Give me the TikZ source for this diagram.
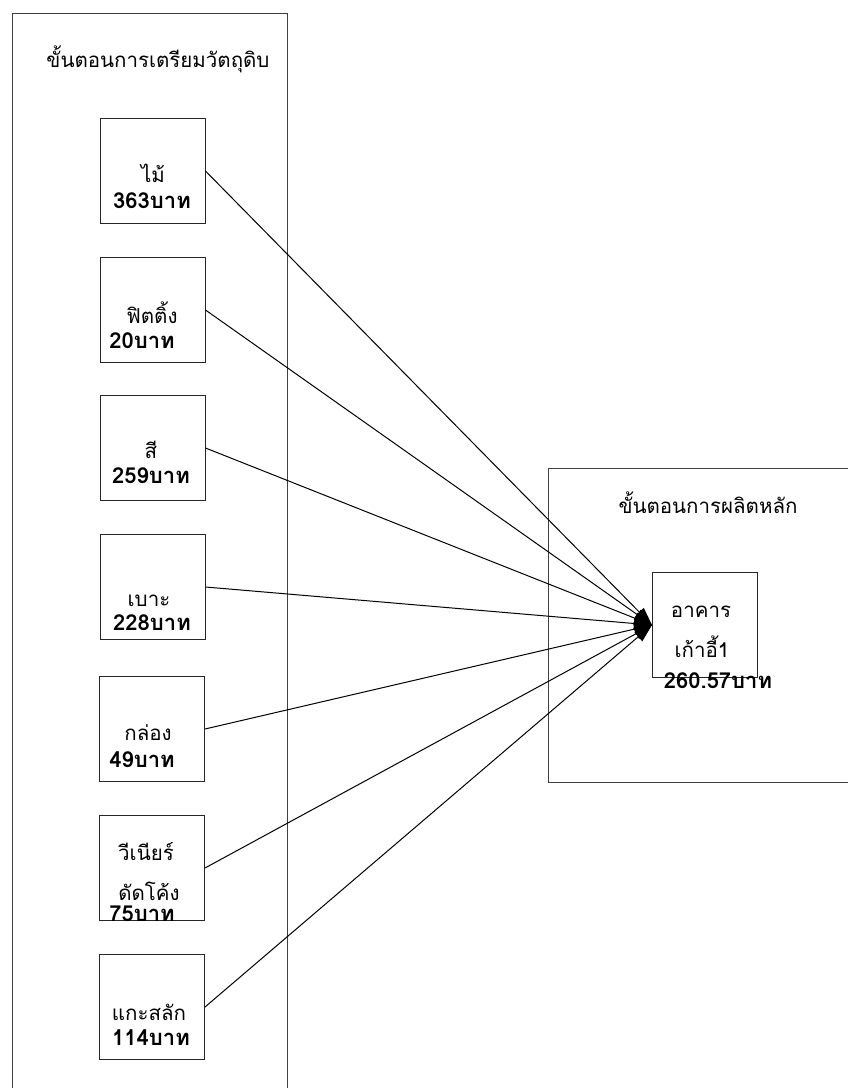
\documentclass[tikz,border=0pt]{standalone}
\usepackage{fontspec}
\setmainfont[Script=Thai]{Loma}
\usetikzlibrary{arrows.meta}

\begin{document}
\begin{tikzpicture}[x=1pt,y=-1pt,
    frame/.style={draw=black!75,line width=0.9pt},
    box/.style={draw=black!85,line width=1pt,minimum width=105pt,minimum height=105pt,inner sep=0pt},
    txt/.style={anchor=base,inner sep=0pt,font=\fontsize{20.5}{24}\selectfont},
    num/.style={txt,font=\fontsize{22}{26}\selectfont\bfseries},
    link/.style={line width=1pt,-{Triangle[length=18pt,width=12pt]}}]
    \useasboundingbox (0,0) rectangle (848,1088);
    % the two stages
    \draw[frame] (12,1088) -- (12,13) -- (287,13) -- (287,1088);
    \draw[frame] (848,468) -- (548,468) -- (548,782) -- (848,782);
    \node[txt] (prep) at (158,67) {ขั้นตอนการเตรียมวัตถุดิบ};
    \node[txt] (prod) at (708,513) {ขั้นตอนการผลิตหลัก};
    % materials
    \node[box] (mai) at (152.5,171) {};
    \node[box] (fitting) at (152.5,310) {};
    \node[box] (si) at (152.5,448) {};
    \node[box] (bo) at (152.5,587) {};
    \node[box] (kong) at (152,729) {};
    \node[box] (veneer) at (152,868) {};
    \node[box] (kae) at (152,1007) {};
    \node[txt] (mai1) at (153,182) {ไม้};
    \node[num] (mai2) at (152,208) {363บาท};
    \node[txt] (fitting1) at (152,323) {ฟิตติ้ง};
    \node[num] (fitting2) at (142,348) {20บาท};
    \node[txt] (si1) at (151,458) {สี};
    \node[num] (si2) at (151,483) {259บาท};
    \node[txt] (bo1) at (149,606) {เบาะ};
    \node[num] (bo2) at (152,630) {228บาท};
    \node[txt] (kong1) at (148,740) {กล่อง};
    \node[num] (kong2) at (142,767) {49บาท};
    \node[txt] (veneer1) at (146,860) {วีเนียร์};
    \node[txt] (veneer2) at (149,900) {ดัดโค้ง};
    \node[num] (veneer3) at (142,921) {75บาท};
    \node[txt] (kae1) at (149,1020) {แกะสลัก};
    \node[num] (kae2) at (151,1045) {114บาท};
    % main product
    \node[box] (chair) at (705,625) {};
    \node[txt] (chair1) at (701,617) {อาคาร};
    \node[txt] (chair2) at (702,657) {เก้าอี้1};
    \node[num] (chair3) at (718,688) {260.57บาท};
    % costs into the chair
    \foreach \m in {mai,fitting,si,bo,kong,veneer,kae}
        \draw[link] (\m.east) -- (chair.west);
\end{tikzpicture}
\end{document}
